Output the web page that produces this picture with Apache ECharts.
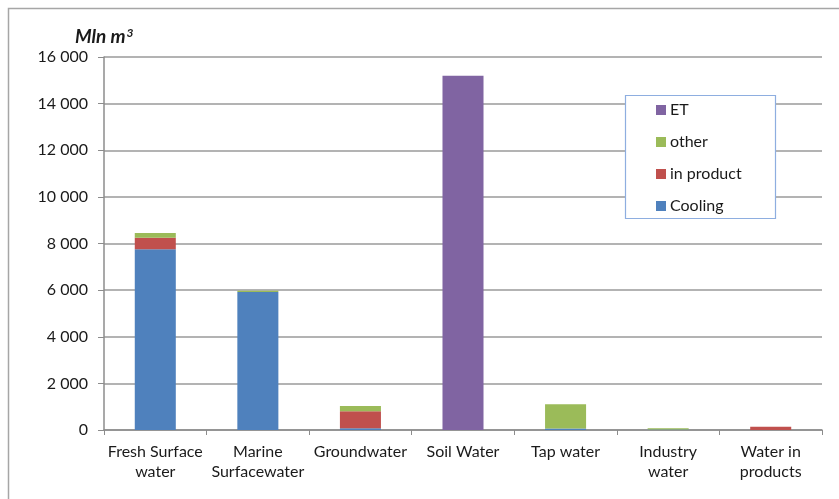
<!DOCTYPE html>
<html><head><meta charset="utf-8">
<script src="https://cdn.jsdelivr.net/npm/echarts@6/dist/echarts.min.js"></script>
<style>html,body{margin:0;padding:0;background:#fff}#c{width:839px;height:499px}</style>
</head><body><div id="c"></div>
<script>
const categories = ['Fresh Surface\nwater', 'Marine\nSurfacewater', 'Groundwater', 'Soil Water', 'Tap water', 'Industry\nwater', 'Water in\nproducts'];
const cooling   = [7750, 5920, 80, 0, 60, 20, 0];
const inProduct = [500, 0, 720, 0, 0, 0, 140];
const other     = [200, 50, 230, 0, 1040, 50, 0];
const et        = [0, 0, 0, 15200, 0, 0, 0];
const yTicks = [0, 2000, 4000, 6000, 8000, 10000, 12000, 14000, 16000];

const font = 'Lato, "Open Sans", sans-serif';
const chart = echarts.init(document.getElementById('c'));
const fmt = v => String(v).replace(/\B(?=(\d{3})+(?!\d))/g, ' ');
chart.setOption({
  animation: false,
  grid: {left: 104, right: 17, top: 57, bottom: 69},
  graphic: [
    {type: 'rect', shape: {x: 8.5, y: 8.5, width: 900, height: 600}, style: {fill: 'none', stroke: '#a6a6a6', lineWidth: 1.5}, silent: true},
    {type: 'text', left: 75, top: 27, style: {
      text: '{a|Mln m}{b|3}',
      rich: {a: {font: 'italic bold 19px ' + font, fill: '#1a1a1a'},
             b: {font: 'italic bold 12px ' + font, fill: '#1a1a1a', verticalAlign: 'top', padding: [0, 0, 7, 1]}}
    }},
    {type: 'rect', z: 10, shape: {x: 625.5, y: 95.5, width: 150, height: 123}, style: {fill: '#fff', stroke: '#8eaee0', lineWidth: 1.2}, silent: true}
  ],
  legend: {
    orient: 'vertical', left: 651, top: 97, z: 20,
    padding: [5, 5, 5, 5], itemGap: 16, itemWidth: 10, itemHeight: 10,
    icon: 'rect', data: ['ET', 'other', 'in product', 'Cooling'],
    textStyle: {fontFamily: font, fontSize: 16, lineHeight: 16, color: '#1a1a1a', padding: [0, 0, 0, -1]}
  },
  xAxis: {
    type: 'category', data: categories,
    axisLine: {lineStyle: {color: '#8c8c8c', width: 1.5}},
    axisTick: {show: true, length: 5, lineStyle: {color: '#8c8c8c'}},
    axisLabel: {fontFamily: font, fontSize: 16, color: '#1a1a1a', lineHeight: 20, margin: 12, interval: 0}
  },
  yAxis: {
    type: 'value', min: 0, max: 16000, interval: 2000,
    axisLine: {show: true, lineStyle: {color: '#8c8c8c', width: 1.5}},
    axisTick: {show: true, length: 6, lineStyle: {color: '#8c8c8c'}},
    splitLine: {lineStyle: {color: '#9a9a9a', width: 1.5}},
    axisLabel: {fontFamily: font, fontSize: 16, color: '#1a1a1a', margin: 16, formatter: v => yTicks.includes(v) ? fmt(v) : ''}
  },
  series: [
    {name: 'Cooling', type: 'bar', stack: 's', data: cooling, barWidth: '40%', itemStyle: {color: '#4f81bd'}},
    {name: 'in product', type: 'bar', stack: 's', data: inProduct, itemStyle: {color: '#c0504d'}},
    {name: 'other', type: 'bar', stack: 's', data: other, itemStyle: {color: '#9bbb59'}},
    {name: 'ET', type: 'bar', stack: 's', data: et, itemStyle: {color: '#8064a2'}}
  ]
});
</script></body></html>
